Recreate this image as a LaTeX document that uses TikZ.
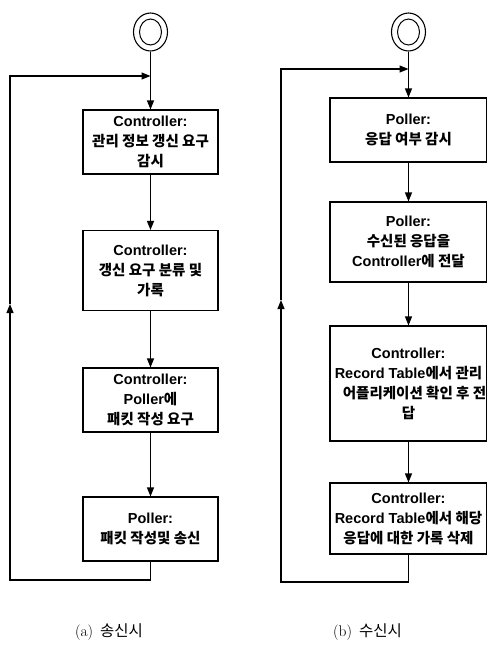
\documentclass[tikz,border=0pt]{standalone}
\usepackage{fontspec}
\usetikzlibrary{arrows.meta,shapes.geometric}
\newfontfamily\kr{Noto Sans CJK KR}
\newfontfamily\lat{Liberation Sans}
\newcommand{\en}[1]{{\lat #1}}
\tikzset{
  stepbox/.style={draw, line width=1.1pt, rectangle, align=center, inner sep=0pt,
    font=\kr\bfseries\fontsize{14.5}{20}\selectfont},
  conn/.style={line width=1.2pt},
  arr/.style={conn, -{Triangle[length=9pt,width=7pt]}},
  startout/.style={draw, ellipse, line width=1.1pt, minimum width=34pt, minimum height=38pt, inner sep=0pt},
  startin/.style={draw, ellipse, line width=1pt, minimum width=22pt, minimum height=26pt, inner sep=0pt},
  caption/.style={font=\fontsize{15.5}{18}\selectfont}
}
\begin{document}
\begin{tikzpicture}[x=1pt,y=-1pt]
\useasboundingbox (0,0) rectangle (487,648);
% ---------- left (a)
\node[startout] (LS) at (150.5,32) {};
\node[startin] (LSi) at (150.5,32) {};
\node[stepbox, minimum width=135pt, minimum height=64pt] (L1) at (150.5,142)
  {\en{Controller:}\\관리 정보 갱신 요구\\감시};
\node[stepbox, minimum width=135pt, minimum height=80pt] (L2) at (150.5,270.5)
  {\en{Controller:}\\갱신 요구 분류 및\\가록};
\node[stepbox, minimum width=135pt, minimum height=64pt] (L3) at (150.5,400)
  {\en{Controller:}\\\en{Poller}에\\패킷 작성 요구};
\node[stepbox, minimum width=135pt, minimum height=64pt] (L4) at (150.5,529)
  {\en{Poller:}\\패킷 작성및 송신};
\coordinate (LJ) at (150.5,76);
\coordinate (LTL) at (10,76);
\coordinate (LBL) at (10,580);
\coordinate (LM) at (10,304);
\draw[arr] (LS.south) -- (L1.north);
\draw[arr] (L1.south) -- (L2.north);
\draw[arr] (L2.south) -- (L3.north);
\draw[arr] (L3.south) -- (L4.north);
\draw[arr] (L4.south) |- (LBL) -- (LM);
\draw[arr] (LM) -- (LTL) -- (LJ);
\node[caption] (LC) at (109,632) {(a)\hspace{0.45em}{\kr 송신시}};
% ---------- right (b)
\node[startout] (RS) at (408.5,32) {};
\node[startin] (RSi) at (408.5,32) {};
\node[stepbox, minimum width=157pt, minimum height=64pt] (R1) at (408.5,130)
  {\en{Poller:}\\응답 여부 감시};
\node[stepbox, minimum width=157pt, minimum height=80pt] (R2) at (408.5,242)
  {\en{Poller:}\\수신된 응답을\\\en{Controller}에 전달};
\node[stepbox, minimum width=157pt, minimum height=115pt] (R3) at (408.5,383.5)
  {\en{Controller:}\\\en{Record Table}에서 관리\\\hspace*{12pt}어플리케이션 확인 후 전\\답};
\node[stepbox, minimum width=157pt, minimum height=71pt] (R4) at (408.5,518.5)
  {\en{Controller:}\\\en{Record Table}에서 해당\\응답에 대한 가록 삭제};
\coordinate (RJ) at (408.5,69);
\coordinate (RTL) at (281,69);
\coordinate (RBL) at (281,582);
\coordinate (RM) at (281,300);
\draw[arr] (RS.south) -- (R1.north);
\draw[arr] (R1.south) -- (R2.north);
\draw[arr] (R2.south) -- (R3.north);
\draw[arr] (R3.south) -- (R4.north);
\draw[arr] (R4.south) |- (RBL) -- (RM);
\draw[arr] (RM) -- (RTL) -- (RJ);
\node[caption] (RC) at (367.5,632) {(b)\hspace{0.45em}{\kr 수신시}};
\end{tikzpicture}
\end{document}
